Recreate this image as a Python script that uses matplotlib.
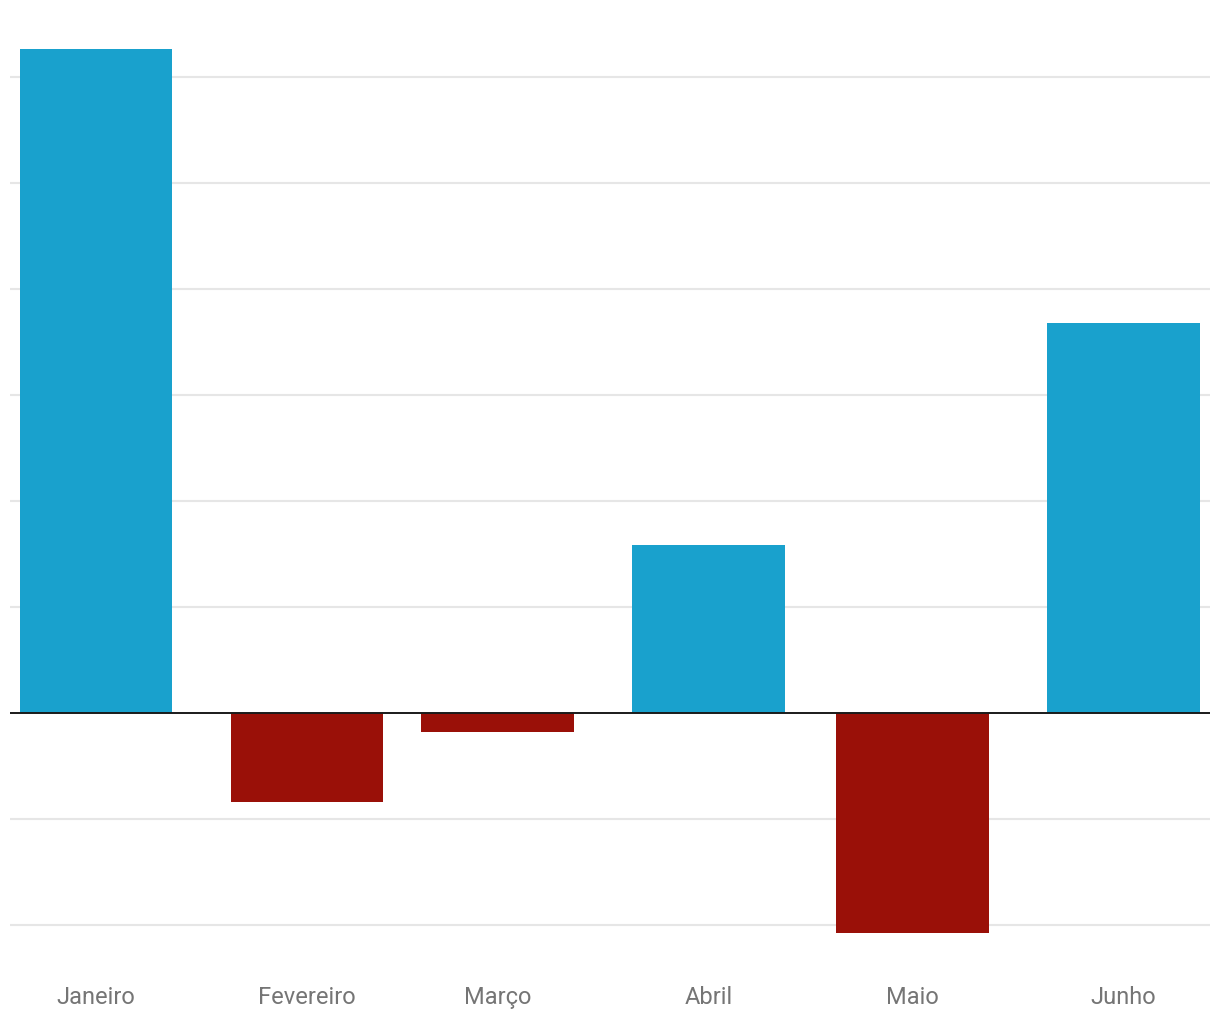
import matplotlib.pyplot as plt
import matplotlib.dates as mdates
import pandas as pd

months = ['Janeiro', 'Fevereiro', 'Março', 'Abril', 'Maio', 'Junho']
dates = pd.to_datetime(['2019-01-01', '2019-02-01', '2019-03-01',
                        '2019-04-01', '2019-05-01', '2019-06-01'])
values = [6.26, -0.84, -0.18, 1.58, -2.08, 3.68]

blue = '#19a1cd'
red = '#9a1008'

plt.rcParams['font.family'] = ['Roboto', 'DejaVu Sans']

fig = plt.figure(figsize=(12.2, 10.2), dpi=100)
# axes spans x 10..1210 px, y 32..962 px
ax = fig.add_axes([10 / 1220, 58 / 1020, 1200 / 1220, 930 / 1020])

x = mdates.date2num(dates)
colors = [blue if v >= 0 else red for v in values]
ax.bar(x, values, width=22.4, color=colors, zorder=3)

ax.set_xlim(x[0] - 12.65, x[-1] + 12.7)
ax.set_ylim(-2.34, 6.434)

for y in range(-2, 7):
    if y == 0:
        continue
    ax.axhline(y, color='#e6e6e6', lw=1.5, zorder=1)
ax.axhline(0, color='#1a1a1a', lw=1.4, zorder=4)

ax.set_xticks(x)
ax.set_xticklabels(months, fontsize=17, color='#757575')
ax.tick_params(axis='x', length=0, pad=17)
ax.set_yticks([])
for s in ax.spines.values():
    s.set_visible(False)

plt.savefig('out.png', dpi=100)
